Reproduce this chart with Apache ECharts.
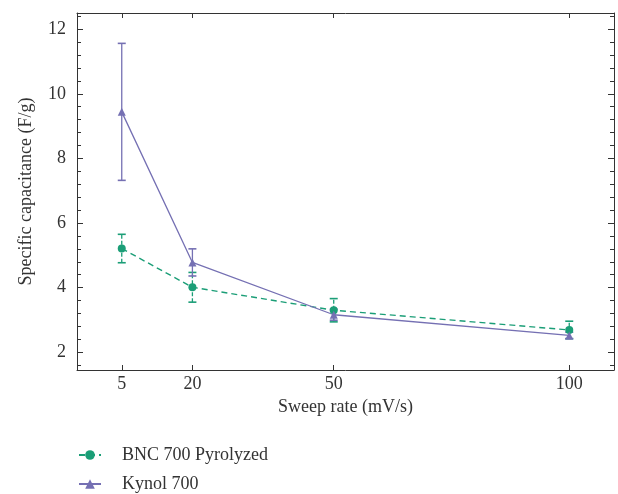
<!DOCTYPE html>
<html>
<head>
<meta charset="utf-8">
<script src="https://cdn.jsdelivr.net/npm/echarts@6/dist/echarts.min.js"></script>
<style>
  html, body { margin: 0; padding: 0; background: #fff; }
  #chart { width: 618px; height: 494px; }
</style>
</head>
<body>
<div id="chart"></div>
<script>
// data
const sweepRates = [5, 20, 50, 100];
const bncMean = [5.21, 4.01, 3.30, 2.69];
const bncErr = [0.44, 0.46, 0.36, 0.27];
const kynolMean = [9.44, 4.78, 3.16, 2.52];
const kynolErr = [2.12, 0.42, 0.17, 0.10];

const xTicks = [5, 20, 50, 100];
const yTicks = [2, 4, 6, 8, 10, 12];
const yMinorTicks = [];
for (let v = 16; v <= 124; v += 4) yMinorTicks.push(v / 10);

const green = '#1b9e77';
const purple = '#7570b3';
const ink = '#333';
const serif = '"Liberation Serif", "DejaVu Serif", serif';
const fs = 18;

function pairs(xs, ys) {
    return xs.map((x, i) => [x, ys[i]]);
}
function errRows(xs, ys, es) {
    return xs.map((x, i) => [x, ys[i] - es[i], ys[i] + es[i]]);
}

function errorBar(color, dashed) {
    return function(params, api) {
        const x = api.value(0);
        const lo = api.coord([x, api.value(1)]);
        const hi = api.coord([x, api.value(2)]);
        const w = 4;
        const style = { stroke: color, lineWidth: 1.3, lineDash: dashed ? [4, 2] : null };
        return {
            type: 'group',
            children: [
                { type: 'line', shape: { x1: lo[0], y1: lo[1], x2: hi[0], y2: hi[1] }, style: style },
                { type: 'line', shape: { x1: lo[0] - w, y1: lo[1], x2: lo[0] + w, y2: lo[1] }, style: { stroke: color, lineWidth: 1.6 } },
                { type: 'line', shape: { x1: hi[0] - w, y1: hi[1], x2: hi[0] + w, y2: hi[1] }, style: { stroke: color, lineWidth: 1.6 } }
            ]
        };
    };
}

const xBase = {
    type: 'value', min: -4.5, max: 109.5,
    splitLine: { show: false },
    axisLine: { show: true, onZero: false, lineStyle: { color: ink, width: 1 } },
    axisTick: { show: true, inside: true, length: 5, customValues: xTicks, lineStyle: { color: ink } }
};
const yBase = {
    type: 'value', min: 1.45, max: 12.5,
    splitLine: { show: false },
    axisLine: { show: true, onZero: false, lineStyle: { color: ink, width: 1 } },
    axisTick: { show: true, inside: true, length: 6, customValues: yTicks, lineStyle: { color: ink } }
};
const yMinor = {
    type: 'value', min: 1.45, max: 12.5,
    splitLine: { show: false },
    axisLine: { show: false, onZero: false },
    axisLabel: { show: false },
    axisTick: { show: true, inside: true, length: 4, customValues: yMinorTicks, lineStyle: { color: ink } }
};

const chart = echarts.init(document.getElementById('chart'));
chart.setOption({
    animation: false,
    textStyle: { fontFamily: serif },
    grid: { left: 77, top: 13, right: 4, bottom: 124 },
    legend: {
        orient: 'vertical',
        left: 78, top: 446,
        padding: 0, height: 48,
        itemWidth: 22, itemHeight: 12, itemGap: 11,
        textStyle: { fontFamily: serif, fontSize: fs, color: ink, padding: [0, 0, 0, 16] },
        data: ['BNC 700 Pyrolyzed', 'Kynol 700']
    },
    xAxis: [
        Object.assign({}, xBase, {
            position: 'bottom',
            name: 'Sweep rate (mV/s)', nameLocation: 'middle', nameGap: 26,
            nameTextStyle: { fontFamily: serif, fontSize: fs, color: ink },
            axisLabel: { customValues: xTicks, margin: 5, fontFamily: serif, fontSize: fs, color: ink }
        }),
        Object.assign({}, xBase, { position: 'top', axisLabel: { show: false } })
    ],
    yAxis: [
        Object.assign({}, yBase, {
            position: 'left',
            name: 'Specific capacitance (F/g)', nameLocation: 'middle', nameGap: 42,
            nameTextStyle: { fontFamily: serif, fontSize: fs, color: ink },
            axisLabel: { customValues: yTicks, margin: 11, fontFamily: serif, fontSize: fs, color: ink }
        }),
        Object.assign({}, yMinor, { position: 'left' }),
        Object.assign({}, yBase, { position: 'right', axisLabel: { show: false } }),
        Object.assign({}, yMinor, { position: 'right' })
    ],
    series: [
        {
            name: 'BNC 700 Pyrolyzed', type: 'line',
            data: pairs(sweepRates, bncMean),
            symbol: 'circle', symbolSize: 8,
            itemStyle: { color: green },
            lineStyle: { color: green, width: 1.4, type: [6, 4] }
        },
        {
            name: 'Kynol 700', type: 'line',
            data: pairs(sweepRates, kynolMean),
            symbol: 'triangle', symbolSize: 8,
            itemStyle: { color: purple },
            lineStyle: { color: purple, width: 1.3 }
        },
        {
            type: 'custom', name: 'bnc-err',
            data: errRows(sweepRates, bncMean, bncErr),
            encode: { x: 0, y: [1, 2] },
            renderItem: errorBar(green, true),
            z: 1
        },
        {
            type: 'custom', name: 'kynol-err',
            data: errRows(sweepRates, kynolMean, kynolErr),
            encode: { x: 0, y: [1, 2] },
            renderItem: errorBar(purple, false),
            z: 1
        }
    ]
});
</script>
</body>
</html>
